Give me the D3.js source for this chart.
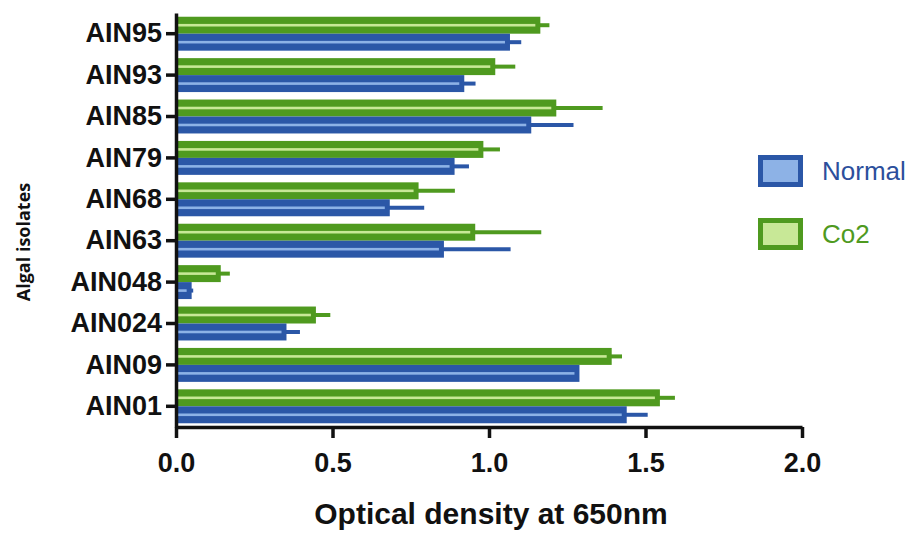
<!DOCTYPE html>
<html>
<head>
<meta charset="utf-8">
<script src="https://cdn.jsdelivr.net/npm/d3@7"></script>
<style>
  body { margin: 0; background: #fff; }
  svg { display: block; }
  .axis text { font-family: "Liberation Sans", Arial, sans-serif; font-weight: bold; fill: #111; }
</style>
</head>
<body>
<div id="chart"></div>
<script>
const categories = ['AIN95', 'AIN93', 'AIN85', 'AIN79', 'AIN68', 'AIN63', 'AIN048', 'AIN024', 'AIN09', 'AIN01'];
const normal = [1.067, 0.921, 1.135, 0.890, 0.683, 0.856, 0.050, 0.353, 1.289, 1.440];
const normalErr = [0.036, 0.036, 0.135, 0.046, 0.110, 0.213, 0.005, 0.043, 0.000, 0.067];
const co2 = [1.164, 1.020, 1.215, 0.982, 0.775, 0.956, 0.143, 0.447, 1.392, 1.546];
const co2Err = [0.029, 0.064, 0.148, 0.053, 0.116, 0.211, 0.029, 0.046, 0.033, 0.048];
const seriesNames = ['Co2', 'Normal'];
const xTicks = [0, 0.5, 1.0, 1.5, 2.0];

const width = 913;
const height = 537;
const margin = { top: 13, right: 111, bottom: 110, left: 176 };

const colors = {
  Normal: { dark: '#2b57a7', light: '#8db2e6', text: '#2c4f9c' },
  Co2: { dark: '#4f9a1f', light: '#c8e897', text: '#4f9a1f' }
};

const svg = d3.select('#chart').append('svg')
  .attr('width', width)
  .attr('height', height);

/* ----------scales------------*/
const x = d3.scaleLinear().domain([0, 2]).range([margin.left, width - margin.right]);
const y = d3.scaleBand().domain(categories).range([margin.top, height - margin.bottom]).padding(0);
const ySub = d3.scaleBand().domain(seriesNames).range([0, y.bandwidth()]).paddingInner(0).paddingOuter(0.22);

// one row per bar
const rows = [];
categories.forEach((c, i) => {
  rows.push({ cat: c, series: 'Co2', value: co2[i], err: co2Err[i] });
  rows.push({ cat: c, series: 'Normal', value: normal[i], err: normalErr[i] });
});

/* ----------bars------------*/
const bars = svg.append('g').selectAll('g').data(rows).enter().append('g')
  .attr('transform', d => 'translate(0,' + (y(d.cat) + ySub(d.series)) + ')');

const bh = ySub.bandwidth();

// error bars first, bar drawn over them
bars.filter(d => d.err > 0).append('line')
  .attr('x1', d => x(d.value) - 2)
  .attr('x2', d => x(d.value + d.err))
  .attr('y1', bh / 2)
  .attr('y2', bh / 2)
  .attr('stroke', d => colors[d.series].dark)
  .attr('stroke-width', 4);

bars.append('rect')
  .attr('x', x(0))
  .attr('y', 0)
  .attr('width', d => x(d.value) - x(0))
  .attr('height', bh)
  .attr('fill', d => colors[d.series].dark);

bars.append('rect')
  .attr('x', x(0) + 2)
  .attr('y', bh / 2 - 1.3)
  .attr('width', d => Math.max(0, x(d.value) - x(0) - 7))
  .attr('height', 2.6)
  .attr('fill', d => colors[d.series].light);

/* ----------axes------------*/
const gx = svg.append('g').attr('class', 'axis')
  .attr('transform', 'translate(0,' + (height - margin.bottom) + ')')
  .call(d3.axisBottom(x).tickValues(xTicks).tickFormat(d3.format('.1f')).tickSizeInner(11).tickSizeOuter(0).tickPadding(15));
gx.selectAll('text').style('font-size', '27px');

const gy = svg.append('g').attr('class', 'axis')
  .attr('transform', 'translate(' + margin.left + ',0)')
  .call(d3.axisLeft(y).tickSizeInner(10).tickSizeOuter(0).tickPadding(4));
gy.selectAll('text').style('font-size', '27px');

svg.selectAll('.axis .domain').attr('stroke', '#111').attr('stroke-width', 3.5);
svg.selectAll('.axis .tick line').attr('stroke', '#111').attr('stroke-width', 3.5);

/* ----------axis titles------------*/
svg.append('text')
  .attr('x', (x(0) + x(2)) / 2 + 2)
  .attr('y', 524)
  .attr('text-anchor', 'middle')
  .style('font-family', '"Liberation Sans", Arial, sans-serif')
  .style('font-weight', 'bold')
  .style('font-size', '30px')
  .attr('fill', '#111')
  .text('Optical density at 650nm');

svg.append('text')
  .attr('transform', 'translate(30,242) rotate(-90)')
  .attr('text-anchor', 'middle')
  .style('font-family', '"Open Sans", "Liberation Sans", sans-serif')
  .style('font-weight', 'bold')
  .style('font-size', '18px')
  .attr('fill', '#111')
  .text('Algal isolates');

/* ----------legend------------*/
const legend = svg.append('g').attr('transform', 'translate(758,155)');
const legendItems = legend.selectAll('g').data(['Normal', 'Co2']).enter().append('g')
  .attr('transform', (d, i) => 'translate(0,' + (i * 63) + ')');

legendItems.append('rect')
  .attr('x', 2.5).attr('y', 2.5)
  .attr('width', 40).attr('height', 27)
  .attr('fill', d => colors[d].light)
  .attr('stroke', d => colors[d].dark)
  .attr('stroke-width', 5);

legendItems.append('text')
  .attr('x', 64)
  .attr('y', 25)
  .style('font-family', '"Liberation Sans", Arial, sans-serif')
  .style('font-size', '26px')
  .attr('fill', d => colors[d].text)
  .text(d => d);
</script>
</body>
</html>
